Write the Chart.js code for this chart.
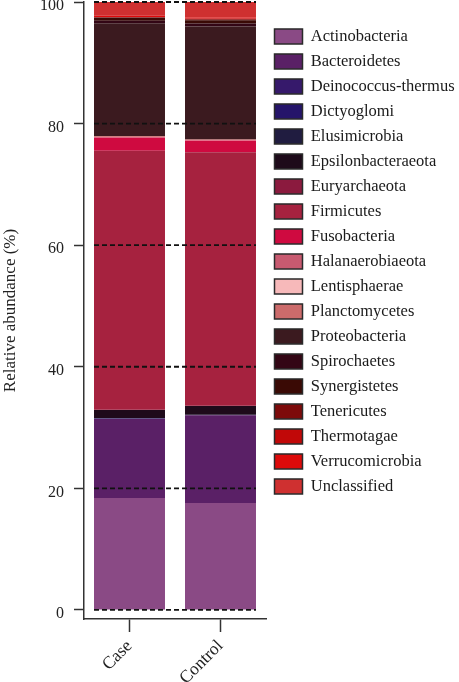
<!DOCTYPE html>
<html>
<head>
<meta charset="utf-8">
<script src="https://cdn.jsdelivr.net/npm/chart.js@4/dist/chart.umd.min.js"></script>
<style>
  body { margin: 0; background: #fff; }
  #wrap { width: 459px; height: 682px; position: relative; }
</style>
</head>
<body>
<div id="wrap"><canvas id="abundanceChart"></canvas></div>
<script>
const groups = ["Case", "Control"];

const phyla = [
    "Actinobacteria", "Bacteroidetes", "Deinococcus-thermus", "Dictyoglomi",
    "Elusimicrobia", "Epsilonbacteraeota", "Euryarchaeota", "Firmicutes",
    "Fusobacteria", "Halanaerobiaeota", "Lentisphaerae", "Planctomycetes",
    "Proteobacteria", "Spirochaetes", "Synergistetes", "Tenericutes",
    "Thermotagae", "Verrucomicrobia", "Unclassified"
];

const caseValues = [
    18.4, 13.0, 0.05, 0.02, 0.1, 1.3, 0.05, 42.6, 2.2, 0.03,
    0.05, 0.1, 18.6, 0.4, 0.5, 0.1, 0.05, 0.2, 2.25
];

const controlValues = [
    17.6, 14.4, 0.03, 0.02, 0.05, 1.45, 0.05, 41.7, 1.9, 0.03,
    0.05, 0.1, 18.6, 0.5, 0.5, 0.2, 0.1, 0.15, 2.57
];

const phylumColors = [
    "#8a4a85", "#5a2066", "#36196b", "#25146a", "#201c40", "#1e0a1a",
    "#8b1a3e", "#a6223f", "#cf0a40", "#c85a70", "#f7b9ba", "#cc6b6b",
    "#3b1a1f", "#330615", "#3a0a05", "#7d0a0a", "#c10808", "#dd0a0a",
    "#cf3030"
];

const serif = "'Liberation Serif', 'Times New Roman', serif";

// dashed reference lines across the bars, on top of them
const dashLines = {
    id: "dashLines",
    afterDatasetsDraw(chart) {
        const ctx = chart.ctx;
        const yScale = chart.scales.y;
        const bars = chart.getDatasetMeta(0).data;
        const first = bars[0];
        const last = bars[bars.length - 1];
        const x0 = first.x - first.width / 2;
        const x1 = last.x + last.width / 2;
        ctx.save();
        ctx.strokeStyle = "#111";
        ctx.lineWidth = 1.8;
        ctx.setLineDash([5, 3]);
        yScale.ticks.forEach(t => {
            const py = yScale.getPixelForValue(t.value);
            ctx.beginPath();
            ctx.moveTo(x0, py);
            ctx.lineTo(x1, py);
            ctx.stroke();
        });
        ctx.restore();
    }
};

const datasets = phyla.map((name, i) => ({
    label: name,
    data: [caseValues[i], controlValues[i]],
    backgroundColor: phylumColors[i],
    borderWidth: 0
}));

new Chart(document.getElementById("abundanceChart"), {
    type: "bar",
    data: { labels: groups, datasets: datasets },
    plugins: [dashLines],
    options: {
        responsive: true,
        maintainAspectRatio: false,
        animation: false,
        categoryPercentage: 1,
        barPercentage: 0.78,
        layout: { padding: 0 },
        plugins: {
            tooltip: { enabled: false },
            legend: {
                position: "right",
                align: "start",
                maxWidth: 193,
                title: {
                    display: true,
                    text: "",
                    font: { size: 1 },
                    padding: { top: 18.5, bottom: 0 }
                },
                labels: {
                    boxWidth: 28,
                    boxHeight: 15,
                    padding: 8.5,
                    color: "#1a1a1a",
                    font: { family: serif, size: 16.5 },
                    generateLabels(chart) {
                        const items = Chart.defaults.plugins.legend.labels.generateLabels(chart);
                        items.forEach(it => {
                            it.strokeStyle = "#2a2a2a";
                            it.lineWidth = 1.5;
                        });
                        return items;
                    }
                }
            }
        },
        scales: {
            x: {
                stacked: true,
                offset: true,
                grid: {
                    offset: false,
                    drawOnChartArea: false,
                    drawTicks: true,
                    tickLength: 13,
                    tickColor: "#333",
                    tickWidth: 1.5
                },
                border: { display: true, color: "#333", width: 1.5 },
                ticks: {
                    color: "#222",
                    font: { family: serif, size: 17.5 },
                    minRotation: 45,
                    maxRotation: 45,
                    padding: 4
                },
                afterFit(scale) {
                    scale.height = 63;
                    scale.paddingLeft = 0;
                    scale.paddingRight = 0;
                }
            },
            y: {
                stacked: true,
                min: -1.5,
                max: 100,
                grid: {
                    drawOnChartArea: false,
                    drawTicks: true,
                    tickLength: 10,
                    tickColor: "#333",
                    tickWidth: 1.5
                },
                border: { display: true, color: "#333", width: 1.5 },
                ticks: {
                    stepSize: 20,
                    includeBounds: false,
                    color: "#222",
                    padding: 10,
                    labelOffset: 4,
                    font: { family: serif, size: 16 }
                },
                title: {
                    display: true,
                    text: "Relative abundance (%)",
                    color: "#222",
                    padding: 0,
                    font: { family: serif, size: 17 }
                },
                afterFit(scale) {
                    scale.width = 84;
                    scale.paddingTop = 2;
                }
            }
        }
    }
});
</script>
</body>
</html>
